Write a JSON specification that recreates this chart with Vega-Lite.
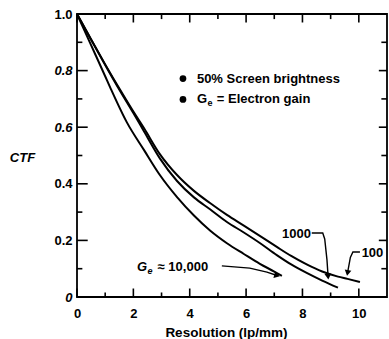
{
  "$schema": "https://vega.github.io/schema/vega-lite/v6.json",
  "width": 310,
  "height": 283,
  "autosize": {"type": "none"},
  "padding": {"left": 77, "top": 14, "right": 2, "bottom": 42},
  "background": "white",
  "config": {
    "view": {"stroke": "black", "strokeWidth": 1.8},
    "font": "Liberation Sans",
    "axis": {
      "grid": false,
      "domain": false,
      "ticks": false,
      "labelColor": "black",
      "labelFont": "Liberation Sans",
      "labelFontWeight": "bold",
      "labelFontSize": 13,
      "titleColor": "black",
      "titleFont": "Liberation Sans",
      "titleFontWeight": "bold",
      "titleFontSize": 13.5
    }
  },
  "datasets": {
    "curves": [
      {"series": "100", "x": 0, "ctf": 1.0},
      {"series": "100", "x": 0.5, "ctf": 0.91},
      {"series": "100", "x": 1.0, "ctf": 0.822},
      {"series": "100", "x": 1.53, "ctf": 0.732},
      {"series": "100", "x": 2.0, "ctf": 0.655},
      {"series": "100", "x": 2.38, "ctf": 0.596},
      {"series": "100", "x": 2.94, "ctf": 0.505},
      {"series": "100", "x": 3.55, "ctf": 0.431},
      {"series": "100", "x": 4.15, "ctf": 0.375},
      {"series": "100", "x": 4.72, "ctf": 0.332},
      {"series": "100", "x": 5.32, "ctf": 0.29},
      {"series": "100", "x": 5.92, "ctf": 0.252},
      {"series": "100", "x": 6.5, "ctf": 0.215},
      {"series": "100", "x": 7.09, "ctf": 0.177},
      {"series": "100", "x": 7.6, "ctf": 0.145},
      {"series": "100", "x": 8.15, "ctf": 0.115},
      {"series": "100", "x": 8.7, "ctf": 0.09},
      {"series": "100", "x": 9.26, "ctf": 0.072},
      {"series": "100", "x": 9.6, "ctf": 0.064},
      {"series": "100", "x": 10.04, "ctf": 0.053},
      {"series": "1000", "x": 0, "ctf": 1.0},
      {"series": "1000", "x": 0.5, "ctf": 0.91},
      {"series": "1000", "x": 1.0, "ctf": 0.82},
      {"series": "1000", "x": 1.53, "ctf": 0.728},
      {"series": "1000", "x": 2.0, "ctf": 0.65},
      {"series": "1000", "x": 2.38, "ctf": 0.585},
      {"series": "1000", "x": 2.94, "ctf": 0.49},
      {"series": "1000", "x": 3.55, "ctf": 0.41},
      {"series": "1000", "x": 4.15, "ctf": 0.352},
      {"series": "1000", "x": 4.72, "ctf": 0.31},
      {"series": "1000", "x": 5.32, "ctf": 0.265},
      {"series": "1000", "x": 5.92, "ctf": 0.228},
      {"series": "1000", "x": 6.5, "ctf": 0.19},
      {"series": "1000", "x": 7.09, "ctf": 0.148},
      {"series": "1000", "x": 7.6, "ctf": 0.115},
      {"series": "1000", "x": 8.15, "ctf": 0.085},
      {"series": "1000", "x": 8.7, "ctf": 0.058},
      {"series": "1000", "x": 9.26, "ctf": 0.033},
      {"series": "10000", "x": 0, "ctf": 1.0},
      {"series": "10000", "x": 0.5, "ctf": 0.89},
      {"series": "10000", "x": 1.0, "ctf": 0.78},
      {"series": "10000", "x": 1.18, "ctf": 0.74},
      {"series": "10000", "x": 1.77, "ctf": 0.617},
      {"series": "10000", "x": 2.38, "ctf": 0.519},
      {"series": "10000", "x": 2.94, "ctf": 0.431},
      {"series": "10000", "x": 3.55, "ctf": 0.353},
      {"series": "10000", "x": 4.15, "ctf": 0.288},
      {"series": "10000", "x": 4.72, "ctf": 0.235},
      {"series": "10000", "x": 5.32, "ctf": 0.19},
      {"series": "10000", "x": 5.92, "ctf": 0.152},
      {"series": "10000", "x": 6.49, "ctf": 0.117},
      {"series": "10000", "x": 7.0, "ctf": 0.09},
      {"series": "10000", "x": 7.27, "ctf": 0.075}
    ],
    "xticks": [
      {"v": 0, "major": true}, {"v": 1, "major": false}, {"v": 2, "major": true},
      {"v": 3, "major": false}, {"v": 4, "major": true}, {"v": 5, "major": false},
      {"v": 6, "major": true}, {"v": 7, "major": false}, {"v": 8, "major": true},
      {"v": 9, "major": false}, {"v": 10, "major": true}
    ],
    "yticks": [
      {"v": 0.1, "major": false}, {"v": 0.2, "major": true}, {"v": 0.3, "major": false},
      {"v": 0.4, "major": true}, {"v": 0.5, "major": false}, {"v": 0.6, "major": true},
      {"v": 0.7, "major": false}, {"v": 0.8, "major": true}, {"v": 0.9, "major": false}
    ],
    "leaders": [
      {"lead": "a", "i": 1, "x": 5.14, "y": 0.110},
      {"lead": "a", "i": 2, "x": 6.13, "y": 0.102},
      {"lead": "a", "i": 3, "x": 6.74, "y": 0.088},
      {"lead": "a", "i": 4, "x": 7.1, "y": 0.076},
      {"lead": "b", "i": 1, "x": 8.33, "y": 0.226},
      {"lead": "b", "i": 2, "x": 8.72, "y": 0.226},
      {"lead": "b", "i": 3, "x": 8.79, "y": 0.205},
      {"lead": "b", "i": 4, "x": 8.87, "y": 0.131},
      {"lead": "b", "i": 5, "x": 8.91, "y": 0.072},
      {"lead": "c", "i": 1, "x": 10.04, "y": 0.159},
      {"lead": "c", "i": 2, "x": 9.79, "y": 0.159},
      {"lead": "c", "i": 3, "x": 9.70, "y": 0.14},
      {"lead": "c", "i": 4, "x": 9.6, "y": 0.085}
    ],
    "bullets": [
      {"x": 3.76, "y": 0.772},
      {"x": 3.76, "y": 0.698}
    ],
    "textLeft": [
      {"x": 4.255, "y": 0.772, "t": "50% Screen brightness"},
      {"x": 4.255, "y": 0.698, "t": "G"},
      {"x": 4.96, "y": 0.698, "t": "= Electron gain"},
      {"x": 2.86, "y": 0.106, "t": "≈ 10,000"},
      {"x": 10.1, "y": 0.157, "t": "100"}
    ],
    "textItalic": [
      {"x": 2.13, "y": 0.106, "t": "G"}
    ],
    "subNormal": [
      {"x": 4.63, "y": 0.698, "t": "e"}
    ],
    "subItalic": [
      {"x": 2.5, "y": 0.106, "t": "e"}
    ],
    "textRight": [
      {"x": 8.3, "y": 0.222, "t": "1000"}
    ]
  },
  "layer": [
    {
      "data": {"name": "curves"},
      "mark": {"type": "line", "color": "black", "strokeWidth": 2, "interpolate": "monotone"},
      "encoding": {
        "x": {
          "field": "x", "type": "quantitative",
          "scale": {"domain": [0, 11], "nice": false, "zero": false},
          "axis": {
            "orient": "bottom",
            "values": [0, 2, 4, 6, 8, 10],
            "format": "d",
            "labelPadding": 10,
            "labelFlush": false,
            "labelOverlap": false,
            "title": "Resolution (lp/mm)",
            "titleX": 149,
            "titleY": 35,
            "titleAlign": "center",
            "titleBaseline": "middle"
          }
        },
        "y": {
          "field": "ctf", "type": "quantitative",
          "scale": {"domain": [0, 1], "nice": false},
          "axis": {
            "orient": "left",
            "values": [0, 0.2, 0.4, 0.6, 0.8, 1.0],
            "labelExpr": "datum.value === 0 ? '0' : format(datum.value, '.1f')",
            "labelFontStyle": {"condition": {"test": "round(datum.value*10) === 8 || round(datum.value*10) === 6 || datum.value === 0", "value": "italic"}, "value": "normal"},
            "labelPadding": 5,
            "labelFlush": false,
            "labelOverlap": false,
            "title": "CTF",
            "titleAngle": 0,
            "titleX": -55,
            "titleY": 143,
            "titleAlign": "center",
            "titleBaseline": "middle",
            "titleFontStyle": "italic",
            "titleFontSize": 13
          }
        },
        "detail": {"field": "series"}
      }
    },
    {
      "data": {"name": "xticks"},
      "transform": [{"filter": "datum.major"}],
      "mark": {"type": "rule", "color": "black", "strokeWidth": 1.6},
      "encoding": {
        "x": {"field": "v", "type": "quantitative", "axis": null},
        "y": {"datum": 0, "type": "quantitative", "axis": null},
        "y2": {"datum": 0.03}
      }
    },
    {
      "data": {"name": "xticks"},
      "transform": [{"filter": "!datum.major"}],
      "mark": {"type": "rule", "color": "black", "strokeWidth": 1.6},
      "encoding": {
        "x": {"field": "v", "type": "quantitative", "axis": null},
        "y": {"datum": 0, "type": "quantitative", "axis": null},
        "y2": {"datum": 0.016}
      }
    },
    {
      "data": {"name": "xticks"},
      "transform": [{"filter": "datum.major"}],
      "mark": {"type": "rule", "color": "black", "strokeWidth": 1.6},
      "encoding": {
        "x": {"field": "v", "type": "quantitative", "axis": null},
        "y": {"datum": 1, "type": "quantitative", "axis": null},
        "y2": {"datum": 0.97}
      }
    },
    {
      "data": {"name": "xticks"},
      "transform": [{"filter": "!datum.major"}],
      "mark": {"type": "rule", "color": "black", "strokeWidth": 1.6},
      "encoding": {
        "x": {"field": "v", "type": "quantitative", "axis": null},
        "y": {"datum": 1, "type": "quantitative", "axis": null},
        "y2": {"datum": 0.982}
      }
    },
    {
      "data": {"name": "yticks"},
      "transform": [{"filter": "datum.major"}],
      "mark": {"type": "rule", "color": "black", "strokeWidth": 1.6},
      "encoding": {
        "y": {"field": "v", "type": "quantitative", "axis": null},
        "x": {"datum": 0, "type": "quantitative", "axis": null},
        "x2": {"datum": 0.38}
      }
    },
    {
      "data": {"name": "yticks"},
      "transform": [{"filter": "!datum.major"}],
      "mark": {"type": "rule", "color": "black", "strokeWidth": 1.6},
      "encoding": {
        "y": {"field": "v", "type": "quantitative", "axis": null},
        "x": {"datum": 0, "type": "quantitative", "axis": null},
        "x2": {"datum": 0.19}
      }
    },
    {
      "data": {"name": "yticks"},
      "transform": [{"filter": "datum.major"}],
      "mark": {"type": "rule", "color": "black", "strokeWidth": 1.6},
      "encoding": {
        "y": {"field": "v", "type": "quantitative", "axis": null},
        "x": {"datum": 11, "type": "quantitative", "axis": null},
        "x2": {"datum": 10.71}
      }
    },
    {
      "data": {"name": "yticks"},
      "transform": [{"filter": "!datum.major"}],
      "mark": {"type": "rule", "color": "black", "strokeWidth": 1.6},
      "encoding": {
        "y": {"field": "v", "type": "quantitative", "axis": null},
        "x": {"datum": 11, "type": "quantitative", "axis": null},
        "x2": {"datum": 10.8}
      }
    },
    {
      "data": {"name": "leaders"},
      "mark": {"type": "line", "color": "black", "strokeWidth": 1.4},
      "encoding": {
        "x": {"field": "x", "type": "quantitative", "axis": null},
        "y": {"field": "y", "type": "quantitative", "axis": null},
        "detail": {"field": "lead"},
        "order": {"field": "i"}
      }
    },
    {
      "data": {"name": "leaders"},
      "transform": [{"filter": "datum.lead === 'a' && datum.i === 4"}],
      "mark": {"type": "point", "shape": "triangle-right", "filled": true, "color": "black", "size": 45, "angle": 15, "opacity": 1},
      "encoding": {
        "x": {"field": "x", "type": "quantitative", "axis": null},
        "y": {"field": "y", "type": "quantitative", "axis": null}
      }
    },
    {
      "data": {"name": "leaders"},
      "transform": [{"filter": "datum.lead === 'b' && datum.i === 5"}],
      "mark": {"type": "point", "shape": "triangle-down", "filled": true, "color": "black", "size": 45, "angle": -5, "opacity": 1},
      "encoding": {
        "x": {"field": "x", "type": "quantitative", "axis": null},
        "y": {"field": "y", "type": "quantitative", "axis": null}
      }
    },
    {
      "data": {"name": "leaders"},
      "transform": [{"filter": "datum.lead === 'c' && datum.i === 4"}],
      "mark": {"type": "point", "shape": "triangle-down", "filled": true, "color": "black", "size": 45, "angle": 10, "opacity": 1},
      "encoding": {
        "x": {"field": "x", "type": "quantitative", "axis": null},
        "y": {"field": "y", "type": "quantitative", "axis": null}
      }
    },
    {
      "data": {"name": "bullets"},
      "mark": {"type": "point", "shape": "circle", "filled": true, "color": "black", "size": 45, "opacity": 1},
      "encoding": {
        "x": {"field": "x", "type": "quantitative", "axis": null},
        "y": {"field": "y", "type": "quantitative", "axis": null}
      }
    },
    {
      "data": {"name": "textLeft"},
      "mark": {"type": "text", "align": "left", "baseline": "middle", "font": "Liberation Sans", "fontWeight": "bold", "fontSize": 13, "color": "black"},
      "encoding": {
        "x": {"field": "x", "type": "quantitative", "axis": null},
        "y": {"field": "y", "type": "quantitative", "axis": null},
        "text": {"field": "t"}
      }
    },
    {
      "data": {"name": "textItalic"},
      "mark": {"type": "text", "align": "left", "baseline": "middle", "font": "Liberation Sans", "fontWeight": "bold", "fontStyle": "italic", "fontSize": 13, "color": "black"},
      "encoding": {
        "x": {"field": "x", "type": "quantitative", "axis": null},
        "y": {"field": "y", "type": "quantitative", "axis": null},
        "text": {"field": "t"}
      }
    },
    {
      "data": {"name": "subNormal"},
      "mark": {"type": "text", "align": "left", "baseline": "middle", "dy": 4, "font": "Liberation Sans", "fontWeight": "bold", "fontSize": 9, "color": "black"},
      "encoding": {
        "x": {"field": "x", "type": "quantitative", "axis": null},
        "y": {"field": "y", "type": "quantitative", "axis": null},
        "text": {"field": "t"}
      }
    },
    {
      "data": {"name": "subItalic"},
      "mark": {"type": "text", "align": "left", "baseline": "middle", "dy": 4, "font": "Liberation Sans", "fontWeight": "bold", "fontStyle": "italic", "fontSize": 9, "color": "black"},
      "encoding": {
        "x": {"field": "x", "type": "quantitative", "axis": null},
        "y": {"field": "y", "type": "quantitative", "axis": null},
        "text": {"field": "t"}
      }
    },
    {
      "data": {"name": "textRight"},
      "mark": {"type": "text", "align": "right", "baseline": "middle", "font": "Liberation Sans", "fontWeight": "bold", "fontSize": 13, "color": "black"},
      "encoding": {
        "x": {"field": "x", "type": "quantitative", "axis": null},
        "y": {"field": "y", "type": "quantitative", "axis": null},
        "text": {"field": "t"}
      }
    }
  ],
  "resolve": {"axis": {"x": "independent", "y": "independent"}}
}
